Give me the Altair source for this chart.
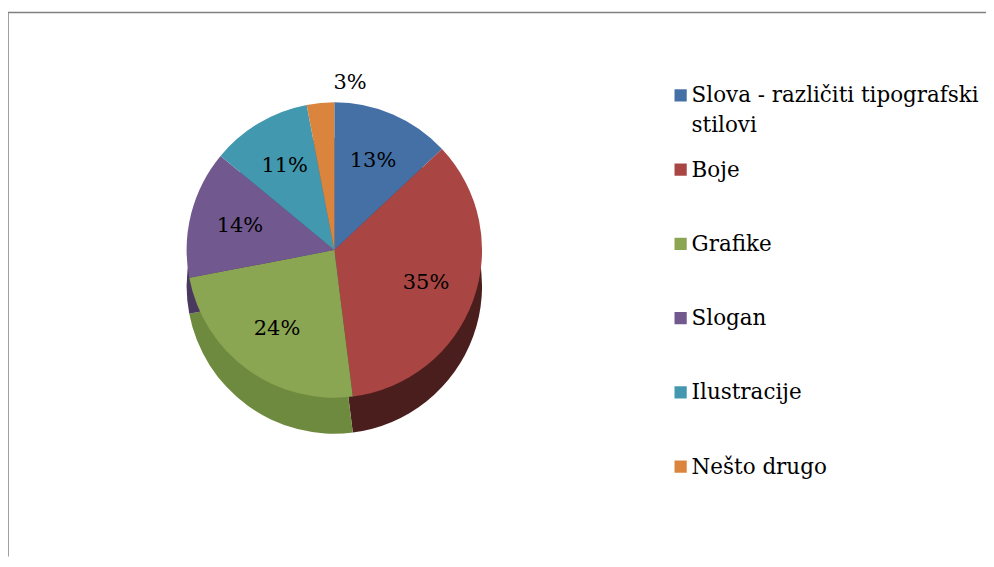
import altair as alt
import pandas as pd

categories = ["Slova - različiti tipografski stilovi", "Boje", "Grafike",
              "Slogan", "Ilustracije", "Nešto drugo"]
percents = [13, 35, 24, 14, 11, 3]
colors = ["#4470A6", "#A94543", "#8BA652", "#71588F", "#4198AF", "#DB843D"]
side_colors = ["#2B4A70", "#4A1E1D", "#6E8A3E", "#4A395E", "#2A6374", "#9A5A27"]

df = pd.DataFrame({"cat": categories, "pct": percents,
                   "idx": list(range(len(categories)))})

W, H = 980, 545
CX, CY, R, D = 327, 238, 148, 36
FONT = "DejaVu Serif"

base = alt.Chart(df)

theta = alt.Theta("pct:Q", stack=True)
order = alt.Order("idx:Q")

side = base.mark_arc(radius=R).encode(
    theta=theta, order=order,
    color=alt.Color("cat:N", scale=alt.Scale(domain=categories, range=side_colors), legend=None),
    x=alt.value(CX), y=alt.value(CY + D),
)

top = base.mark_arc(radius=R).encode(
    theta=theta, order=order,
    color=alt.Color("cat:N", scale=alt.Scale(domain=categories, range=colors), legend=None),
    x=alt.value(CX), y=alt.value(CY),
)

labels = base.transform_calculate(
    lbl="datum.pct + '%'",
    r=f"datum.pct < 5 ? {R + 20} : {R * 0.66}",
).mark_text(font=FONT, fontSize=21, color="black").encode(
    theta=theta, order=order,
    radius=alt.Radius("r:Q", scale=None),
    text=alt.Text("lbl:N"),
    x=alt.value(CX), y=alt.value(CY),
)

ypos = alt.Y("cat:N", sort=categories, axis=None,
             scale=alt.Scale(type="point", range=[83, 455], padding=0))

leg_sq = base.mark_square(size=150, filled=True, opacity=1).encode(
    x=alt.value(674),
    y=ypos,
    color=alt.Color("cat:N", scale=alt.Scale(domain=categories, range=colors), legend=None),
)

leg_txt = base.transform_calculate(
    txt="replace(datum.cat, 'tipografski ', 'tipografski\\n')"
).mark_text(font=FONT, fontSize=21.5, align="left", baseline="alphabetic",
            dy=7, lineBreak="\n", lineHeight=30, color="black").encode(
    x=alt.value(685),
    y=ypos,
    text="txt:N",
)

frame_data = alt.Data(values=[{"k": 1}])
left_rule = alt.Chart(frame_data).mark_rule(color="#808080", strokeWidth=1.5).encode(
    x=alt.value(0), y=alt.value(0), y2=alt.value(H))
top_rule = alt.Chart(frame_data).mark_rule(color="#808080", strokeWidth=1.5).encode(
    x=alt.value(0), x2=alt.value(W), y=alt.value(0))

chart = alt.layer(side, top, labels, leg_sq, leg_txt, left_rule, top_rule).resolve_scale(
    color="independent"
).properties(
    width=W, height=H,
    padding={"left": 0, "top": 4, "right": 0, "bottom": 0},
    autosize=alt.AutoSizeParams(type="none"),
    background="white",
).configure_view(stroke=None)

chart.save("out.html", embed_options={"renderer": "svg", "actions": False})
